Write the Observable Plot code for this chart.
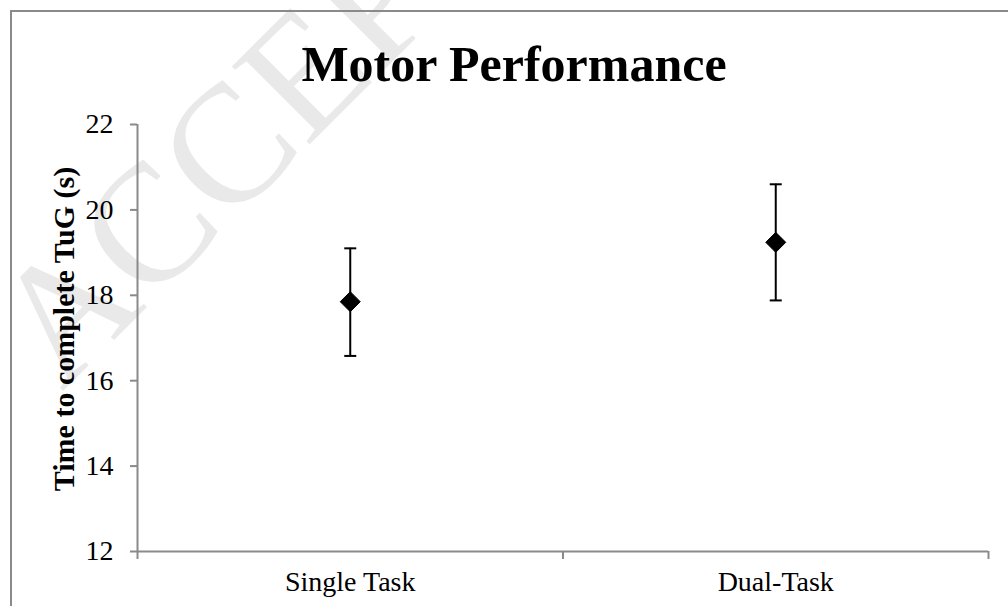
<!DOCTYPE html>
<html>
<head>
<meta charset="utf-8">
<script src="https://cdn.jsdelivr.net/npm/d3@7"></script>
<script src="https://cdn.jsdelivr.net/npm/@observablehq/plot@0.6"></script>
<style>
  html, body { margin: 0; padding: 0; background: #fff; }
  #wrap { position: relative; width: 1008px; height: 606px; overflow: hidden; background: #fff; }
  #watermark { position: absolute; left: 0; top: 0; }
  #frame { position: absolute; left: 10px; top: 10px; width: 1100px; height: 700px;
           border-top: 2px solid #8a8a8a; border-left: 2px solid #8a8a8a; }
  #title { position: absolute; left: 20px; top: 39px; width: 988px; text-align: center;
           font-family: "Liberation Serif", "Times New Roman", serif; font-weight: bold;
           font-size: 50px; line-height: 50px; color: #000; }
  #chart { position: absolute; left: 0; top: 0; }
</style>
</head>
<body>
<div id="wrap">
  <svg id="watermark" width="1008" height="606">
    <text transform="translate(62,392) rotate(-45)" font-family="Liberation Serif, serif"
          font-size="168" fill="#e9e9e9">ACCEPTED</text>
  </svg>
  <div id="frame"></div>
  <div id="chart"></div>
  <div id="title">Motor Performance</div>
</div>
<script>
// ---- data ----
const categories = ["Single Task", "Dual-Task"];
const means = [17.85, 19.24];
const lower = [16.58, 17.88];
const upper = [19.10, 20.60];
const yTicks = [12, 14, 16, 18, 20, 22];
const yLabel = "Time to complete TuG (s)";

const data = categories.map((c, i) => ({
  cat: c, pos: i + 0.5, mean: means[i], lo: lower[i], hi: upper[i]
}));
const xBounds = d3.range(categories.length + 1);
const xCenters = categories.map((c, i) => i + 0.5);

const gray = "#8a8a8a";

const capSymbol = {
  draw(ctx, size) {
    const r = Math.sqrt(size / Math.PI);
    ctx.moveTo(-r, 0); ctx.lineTo(r, 0);
  }
};
const diamondSymbol = {
  draw(ctx, size) {
    const r = Math.sqrt(size / Math.PI);
    ctx.moveTo(0, -r); ctx.lineTo(r, 0); ctx.lineTo(0, r); ctx.lineTo(-r, 0); ctx.closePath();
  }
};

const chart = Plot.plot({
  width: 1008,
  height: 606,
  marginLeft: 137,
  marginRight: 20,
  marginTop: 124,
  marginBottom: 55,
  style: { fontFamily: "Liberation Serif, serif", fontSize: "28px", color: "#000", background: "transparent" },
  x: { domain: [0, categories.length], axis: null },
  y: { domain: [12, 22], axis: null },
  marks: [
    Plot.ruleX([0], { stroke: gray, strokeWidth: 2 }),
    Plot.ruleY([12], { stroke: gray, strokeWidth: 2 }),
    Plot.axisY({ ticks: yTicks, tickSize: 7, tickPadding: 17, stroke: gray, strokeWidth: 2,
                 color: "#000", fontSize: 28, label: null }),
    Plot.axisX({ ticks: xBounds, tickSize: 8, stroke: gray, strokeWidth: 2,
                 tickFormat: () => "", label: null }),
    Plot.axisX({ ticks: xCenters, tickSize: 0, tickPadding: 20, color: "#000", fontSize: 28,
                 tickFormat: d => categories[Math.floor(d)], label: null }),
    Plot.text([yLabel], { text: d => d, frameAnchor: "left", textAnchor: "middle", lineAnchor: "middle",
                          rotate: -90, dx: -73, dy: -9,
                          fontWeight: "bold", fontSize: 30, fill: "#000" }),
    Plot.ruleX(data, { x: "pos", y1: "lo", y2: "hi", stroke: "#000", strokeWidth: 2 }),
    Plot.dot(data, { x: "pos", y: "hi", symbol: capSymbol, r: 6, stroke: "#000", strokeWidth: 2, fill: "none" }),
    Plot.dot(data, { x: "pos", y: "lo", symbol: capSymbol, r: 6, stroke: "#000", strokeWidth: 2, fill: "none" }),
    Plot.dot(data, { x: "pos", y: "mean", symbol: diamondSymbol, r: 10, fill: "#000", stroke: "#000", strokeWidth: 1 })
  ]
});
document.getElementById("chart").appendChild(chart);
</script>
</body>
</html>
